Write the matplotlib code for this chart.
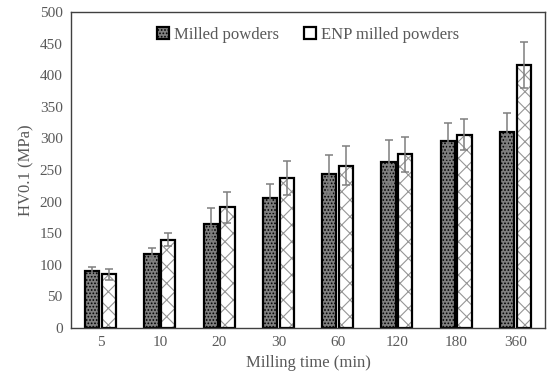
import matplotlib
matplotlib.use("Agg")
import matplotlib.pyplot as plt
from matplotlib.patches import Patch
import numpy as np

categories = ["5", "10", "20", "30", "60", "120", "180", "360"]
milled = [90, 117, 164, 206, 244, 263, 296, 310]
milled_err = [6, 10, 26, 22, 30, 34, 29, 30]
enp = [85, 140, 191, 238, 257, 275, 306, 416]
enp_err = [9, 10, 25, 27, 31, 28, 25, 37]

plt.rcParams['font.family'] = ['Liberation Serif', 'DejaVu Serif']
plt.rcParams['hatch.linewidth'] = 0.8

fig = plt.figure(figsize=(5.5, 3.83), dpi=100)
ax = fig.add_axes([0.129, 0.1436, 0.862, 0.825])

x = np.arange(len(categories))
w = 0.24
off = 0.14
ax.bar(x - off, milled, w, color='#808080', edgecolor='black', linewidth=1.6,
       hatch='.....', zorder=2)
# ENP: light gray zigzag-like hatch, then black outline on top
ax.bar(x + off, enp, w, color='white', edgecolor='#969696', linewidth=0,
       hatch='//\\\\', zorder=2)
ax.bar(x + off, enp, w, color='none', edgecolor='black', linewidth=1.6, zorder=2.5)

ax.errorbar(x - off, milled, yerr=milled_err, fmt='none', ecolor='#7f7f7f',
            elinewidth=1.1, capsize=3, capthick=1.1, zorder=3)
ax.errorbar(x + off, enp, yerr=enp_err, fmt='none', ecolor='#7f7f7f',
            elinewidth=1.1, capsize=3, capthick=1.1, zorder=3)

ax.set_xlim(-0.5, len(categories) - 0.5)
ax.set_ylim(0, 500)
ax.set_yticks(np.arange(0, 501, 50))
ax.set_xticks(x)
ax.set_xticklabels(categories)
ax.tick_params(axis='both', length=0, labelsize=11, labelcolor='#595959', pad=6)
for s in ax.spines.values():
    s.set_color('#404040')
    s.set_linewidth(1.0)

ax.set_xlabel('Milling time (min)', fontsize=12, color='#595959')
ax.set_ylabel('HV0.1 (MPa)', fontsize=12, color='#595959')

handles = [Patch(facecolor='#808080', edgecolor='black', linewidth=1.6, hatch='.....'),
           Patch(facecolor='white', edgecolor='black', linewidth=1.6)]
leg = ax.legend(handles, ['Milled powders', 'ENP milled powders'],
                loc='upper center', ncol=2, frameon=False, fontsize=12,
                handlelength=0.7, handleheight=0.7, handletextpad=0.3,
                columnspacing=1.5, bbox_to_anchor=(0.5, 1.0))
for t in leg.get_texts():
    t.set_color('#595959')

fig.savefig('out.png', dpi=100)
